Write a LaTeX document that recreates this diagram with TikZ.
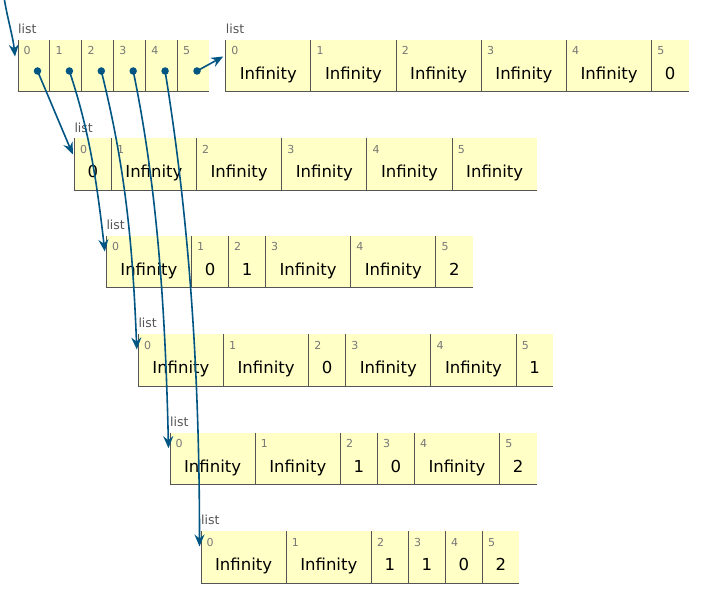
\documentclass[tikz,border=0pt]{standalone}
\usepackage{fontspec}
\setmainfont{DejaVu Sans}
\usetikzlibrary{arrows.meta}
\definecolor{cellyellow}{HTML}{FFFFC6}
\definecolor{bordergray}{HTML}{555555}
\definecolor{idxgray}{HTML}{777777}
\definecolor{ptblue}{HTML}{005583}
\def\infstr{Infinity}
\tikzset{
  cellbox/.style={rectangle, fill=cellyellow, draw=none, inner sep=0pt, outer sep=0pt, minimum height=52pt, anchor=north west},
  border/.style={draw=bordergray, line width=1pt},
  lbl/.style={anchor=base west, inner sep=0pt, font=\fontsize{12.5}{14}\selectfont, text=bordergray},
  idx/.style={anchor=base west, inner sep=0pt, font=\fontsize{11}{12}\selectfont, text=idxgray},
  val/.style={anchor=base, inner sep=0pt, font=\fontsize{16.5}{19}\selectfont, text=black},
  dot/.style={circle, fill=ptblue, draw=none, inner sep=0pt, minimum size=7.5pt},
  ptr/.style={draw=ptblue, line width=1.6pt, -{Stealth[length=12pt,width=10pt,inset=4pt]}},
}
\newcommand\pylist[4]{%
  \node[lbl] (#1-lbl) at (#2,#3-6.2) {list};
  \xdef\pycx{#2}%
  \foreach \v [count=\i from 0] in {#4} {%
    \edef\vv{\v}%
    \ifx\vv\infstr\def\pyw{85.2}\else\def\pyw{37}\fi
    \node[cellbox, minimum width=\pyw pt] (#1-\i) at (\pycx,#3) {};
    \draw[border] (#1-\i.north west) -- (#1-\i.south west) -- (#1-\i.south east);
    \node[idx] (#1-\i-i) at ([xshift=5.5pt,yshift=-15pt]#1-\i.north west) {\i};
    \node[val] (#1-\i-v) at ([yshift=-39.5pt]#1-\i.north) {\v};
    \pgfmathsetmacro\pynx{\pycx+\pyw}\xdef\pycx{\pynx}%
  }%
}
\begin{document}
\begin{tikzpicture}[x=1pt,y=-1pt]
\useasboundingbox (0,0) rectangle (710,596);
% outer list of pointers
\node[lbl] (o-lbl) at (18,33.8) {list};
\foreach \i in {0,...,5} {
  \node[cellbox, minimum width=31.9pt] (o-\i) at (18+31.9*\i,40) {};
  \draw[border] (o-\i.north west) -- (o-\i.south west) -- (o-\i.south east);
  \node[idx] (o-\i-i) at ([xshift=5.5pt,yshift=-15pt]o-\i.north west) {\i};
  \node[dot] (o-\i-d) at ([xshift=19.5pt,yshift=-31pt]o-\i.north west) {};
}
% inner lists
\pylist{a}{225.7}{40}{Infinity,Infinity,Infinity,Infinity,Infinity,0}
\pylist{b}{74.3}{138.3}{0,Infinity,Infinity,Infinity,Infinity,Infinity}
\pylist{c}{106.3}{236}{Infinity,0,1,Infinity,Infinity,2}
\pylist{d}{138.3}{334}{Infinity,Infinity,0,Infinity,Infinity,1}
\pylist{e}{170}{432.7}{Infinity,Infinity,1,0,Infinity,2}
\pylist{f}{201}{531}{Infinity,Infinity,1,1,0,2}
% pointers
\coordinate (src) at (4,-3);
\draw[ptr] (src) .. controls +(3,20) and +(-2,-20) .. ([xshift=-3pt,yshift=-16.5pt]o-0.north west);
\draw[ptr] (o-5-d.center) -- ([xshift=-2.5pt,yshift=-16.5pt]a-0.north west);
\draw[ptr] (o-0-d.center) .. controls +(12,28) and +(-12,-28) .. ([xshift=-1.5pt,yshift=-16pt]b-0.north west);
\draw[ptr] (o-1-d.center) .. controls +(20,60) and +(-8,-70) .. ([xshift=-1.5pt,yshift=-15.5pt]c-0.north west);
\draw[ptr] (o-2-d.center) .. controls +(25,100) and +(-4,-100) .. ([xshift=-1.5pt,yshift=-15.5pt]d-0.north west);
\draw[ptr] (o-3-d.center) .. controls +(25,120) and +(-3,-130) .. ([xshift=-1.5pt,yshift=-15.5pt]e-0.north west);
\draw[ptr] (o-4-d.center) .. controls +(26,160) and +(0,-160) .. ([xshift=-1.5pt,yshift=-15.5pt]f-0.north west);
\end{tikzpicture}
\end{document}
